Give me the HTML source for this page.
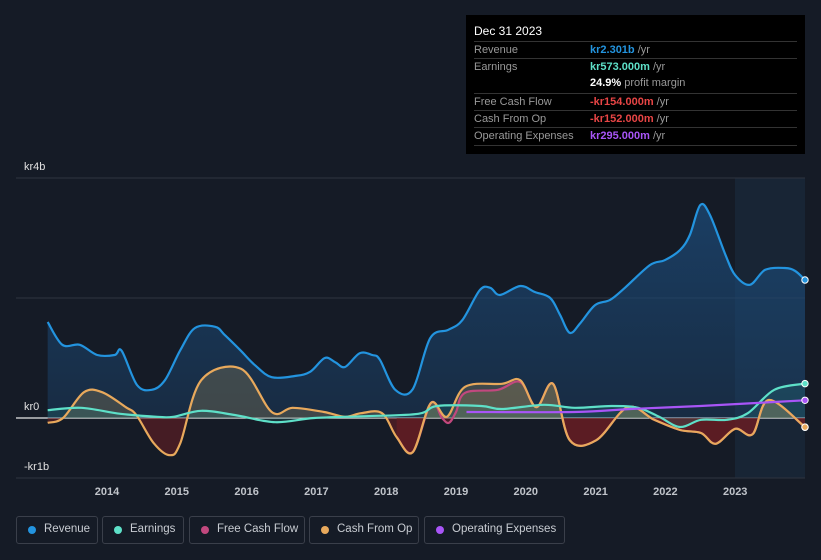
<!DOCTYPE html>
<html><head><meta charset="utf-8"><style>
body{margin:0;background:#151b26;width:821px;height:560px;overflow:hidden;font-family:"Liberation Sans",sans-serif;}
#tip{position:absolute;left:466px;top:15px;width:339px;height:139px;background:#000;color:#fff;font-size:11px;}
#tip .h{position:absolute;left:8px;top:9px;font-size:12px;}
#tip .r{position:absolute;left:8px;width:323px;border-top:1px solid #333;height:17px;}
#tip .l{position:absolute;left:0;top:2px;color:#999;}
#tip .v{position:absolute;left:116px;top:2px;font-weight:bold;}
#tip .v span{color:#999;font-weight:normal;}
.leg{position:absolute;top:516px;height:28px;border:1px solid #3a3f4a;border-radius:3px;color:#c8ccd2;font-size:11.5px;box-sizing:border-box;}
.leg i{position:absolute;left:11px;top:9px;width:8px;height:8px;border-radius:50%;}
.leg b{position:absolute;left:27px;top:6px;font-weight:normal;}
</style></head><body>
<svg id="chart" width="821" height="560" style="position:absolute;left:0;top:0">
<defs>
<linearGradient id="rg" x1="0" y1="0" x2="0" y2="1"><stop offset="0" stop-color="#1c4a78" stop-opacity="0.75"/><stop offset="1" stop-color="#1c4a78" stop-opacity="0.35"/></linearGradient>
</defs>
<rect x="735" y="178" width="70" height="300" fill="#1a2d40" opacity="0.6"/>
<g id="grid"></g>
<g id="areas"></g>
<g id="lines"></g>
<g id="labels"></g>
</svg>
<div id="tip">
<div class="h">Dec 31 2023</div>
<div class="r" style="top:26px"><span class="l">Revenue</span><span class="v" style="color:#2394df">kr2.301b <span>/yr</span></span></div>
<div class="r" style="top:43px;border-bottom:0"><span class="l">Earnings</span><span class="v" style="color:#5ee0c8">kr573.000m <span>/yr</span></span></div>
<div class="r" style="top:60px;border-top:0"><span class="v" style="color:#fff">24.9% <span>profit margin</span></span></div>
<div class="r" style="top:78px"><span class="l">Free Cash Flow</span><span class="v" style="color:#e84545">-kr154.000m <span>/yr</span></span></div>
<div class="r" style="top:95px"><span class="l">Cash From Op</span><span class="v" style="color:#e84545">-kr152.000m <span>/yr</span></span></div>
<div class="r" style="top:112px"><span class="l">Operating Expenses</span><span class="v" style="color:#a855f7">kr295.000m <span>/yr</span></span></div>
<div class="r" style="top:130px;height:0"></div>
</div>
<div class="leg" style="left:16px;width:82px"><i style="background:#2394df"></i><b>Revenue</b></div>
<div class="leg" style="left:102px;width:82px"><i style="background:#5ee0c8"></i><b>Earnings</b></div>
<div class="leg" style="left:189px;width:116px"><i style="background:#c2487e"></i><b>Free Cash Flow</b></div>
<div class="leg" style="left:309px;width:110px"><i style="background:#e8a95c"></i><b>Cash From Op</b></div>
<div class="leg" style="left:424px;width:141px"><i style="background:#a855f7"></i><b>Operating Expenses</b></div>
<script>
const yTicks=[4,2,0,-1];
const yTickLabels=["kr4b","","kr0","-kr1b"];
const xYears=[2014,2015,2016,2017,2018,2019,2020,2021,2022,2023];
const revT=[2013.15,2013.36,2013.61,2013.86,2014.11,2014.21,2014.43,2014.64,2014.83,2015.05,2015.26,2015.55,2015.69,2015.91,2016.12,2016.36,2016.69,2016.91,2017.12,2017.27,2017.41,2017.62,2017.80,2017.91,2018.13,2018.38,2018.63,2018.89,2019.09,2019.34,2019.49,2019.63,2019.92,2020.13,2020.35,2020.49,2020.63,2020.78,2020.99,2021.21,2021.42,2021.78,2021.99,2022.21,2022.35,2022.50,2022.64,2022.86,2023.00,2023.21,2023.43,2023.71,2023.86,2024.0];
const revV=[1.60,1.22,1.22,1.05,1.05,1.12,0.55,0.47,0.63,1.13,1.50,1.52,1.38,1.13,0.88,0.68,0.70,0.77,1.00,0.93,0.85,1.08,1.05,0.97,0.47,0.48,1.33,1.47,1.63,2.13,2.17,2.05,2.20,2.10,2.00,1.72,1.42,1.58,1.88,1.97,2.17,2.55,2.63,2.80,3.05,3.55,3.38,2.72,2.38,2.22,2.47,2.50,2.45,2.30];
const earnT=[2013.15,2013.63,2014.19,2014.72,2014.95,2015.35,2015.83,2016.41,2016.97,2017.71,2018.46,2018.73,2019.36,2019.66,2020.26,2020.70,2021.23,2021.61,2021.91,2022.21,2022.51,2022.88,2023.18,2023.56,2024.0];
const earnV=[0.13,0.17,0.07,0.02,0.02,0.12,0.05,-0.07,0,0.03,0.07,0.2,0.2,0.15,0.22,0.17,0.2,0.17,0.02,-0.15,-0.03,-0.03,0.08,0.47,0.573];
const cfoT=[2013.15,2013.37,2013.67,2013.93,2014.27,2014.42,2014.67,2014.90,2015.05,2015.35,2015.92,2016.36,2016.66,2017.11,2017.41,2017.64,2017.94,2018.15,2018.38,2018.64,2018.87,2019.13,2019.66,2019.92,2020.15,2020.39,2020.63,2021.01,2021.46,2021.84,2022.21,2022.51,2022.72,2023.0,2023.25,2023.48,2024.0];
const cfoV=[-0.08,0,0.43,0.43,0.18,0.05,-0.42,-0.62,-0.42,0.63,0.82,0.1,0.17,0.1,0.02,0.08,0.08,-0.32,-0.57,0.25,0.02,0.52,0.57,0.63,0.18,0.57,-0.37,-0.37,0.18,-0.03,-0.2,-0.25,-0.43,-0.18,-0.27,0.3,-0.152];
const fcfT=[2018.15,2018.38,2018.64,2018.8,2018.9,2019.0,2019.13,2019.6,2019.92,2020.15,2020.39,2020.63,2021.01,2021.46,2021.84,2022.21,2022.51,2022.72,2023.0,2023.25,2023.48,2024.0];
const fcfV=[-0.32,-0.57,0.25,0.0,-0.08,0.1,0.42,0.47,0.6,0.18,0.57,-0.37,-0.37,0.18,-0.03,-0.2,-0.25,-0.43,-0.18,-0.27,0.3,-0.154];
const opexT=[2019.15,2020.7,2021.5,2022.5,2023.3,2024.0];
const opexV=[0.1,0.1,0.15,0.2,0.25,0.295];

const X=t=>107+(t-2014)*69.8;
const Y=v=>418-v*60;
const NS="http://www.w3.org/2000/svg";
function mk(tag,attrs,parent){const e=document.createElementNS(NS,tag);for(const k in attrs)e.setAttribute(k,attrs[k]);parent.appendChild(e);return e;}
function pathD(T,V){const p=T.map((t,i)=>[X(t),Y(V[i])]);let d=`M${p[0][0]},${p[0][1]}`;
for(let i=0;i<p.length-1;i++){const p0=p[i-1]||p[i],p1=p[i],p2=p[i+1],p3=p[i+2]||p2;
d+=` C${p1[0]+(p2[0]-p0[0])/6},${p1[1]+(p2[1]-p0[1])/6} ${p2[0]-(p3[0]-p1[0])/6},${p2[1]-(p3[1]-p1[1])/6} ${p2[0]},${p2[1]}`;}return d;}
const grid=document.getElementById('grid'),areas=document.getElementById('areas'),lines=document.getElementById('lines'),labels=document.getElementById('labels');
yTicks.forEach((v,i)=>{
 const l=mk('line',{x1:16,x2:805,y1:Y(v),y2:Y(v),stroke:v===0?'#e8e8e8':'#2e3440','stroke-width':v===0?1.2:1},grid);
 
 
 if(yTickLabels[i]){const t=mk('text',{x:24,y:Y(v)-8,fill:'#e0e0e0','font-size':11},labels);t.textContent=yTickLabels[i];
 
 }
});
xYears.forEach(yr=>{const t=mk('text',{x:X(yr),y:495,fill:'#c0c4ca','font-size':11,'text-anchor':'middle','font-weight':'bold'},labels);t.textContent=yr;
 
 });
function area(T,V,fill,op,name){const d=pathD(T,V)+` L${X(T[T.length-1])},418 L${X(T[0])},418 Z`;const a=mk('path',{d:d,fill:fill,opacity:op},areas);
 
 }
area(revT,revV,'url(#rg)',1,'revenue-area');
mk('clipPath',{id:'pos'},areas);document.getElementById('pos').appendChild(document.createElementNS(NS,'rect'));
const pr=document.querySelector('#pos rect');pr.setAttribute('x',0);pr.setAttribute('y',0);pr.setAttribute('width',821);pr.setAttribute('height',418);
mk('clipPath',{id:'neg'},areas);const nr=document.createElementNS(NS,'rect');document.getElementById('neg').appendChild(nr);
nr.setAttribute('x',0);nr.setAttribute('y',418);nr.setAttribute('width',821);nr.setAttribute('height',200);
const gp=mk('g',{'clip-path':'url(#pos)'},areas),gn=mk('g',{'clip-path':'url(#neg)'},areas);
[[cfoT,cfoV],[fcfT,fcfV]].forEach(([T,V])=>{const d=pathD(T,V)+` L${X(T[T.length-1])},418 L${X(T[0])},418 Z`;
 const a=mk('path',{d:d,fill:'#8a7a55',opacity:0.35},gp);
 const b=mk('path',{d:d,fill:'#6e1e22',opacity:0.55},gn);});
area(earnT,earnV,'#2a8c86',0.2,'earnings-area');
function line(T,V,color,name){const l=mk('path',{d:pathD(T,V),fill:'none',stroke:color,'stroke-width':2.2},lines);
 
 
 const c=mk('circle',{cx:X(T[T.length-1]),cy:Y(V[V.length-1]),r:3.2,fill:color,stroke:'#fff','stroke-width':1},lines);
 
 }
line(fcfT,fcfV,'#c2487e','free-cash-flow-line');
line(cfoT,cfoV,'#e8a95c','cash-from-op-line');
line(earnT,earnV,'#5ee0c8','earnings-line');
line(opexT,opexV,'#a855f7','operating-expenses-line');
line(revT,revV,'#2394df','revenue-line');
</script>
</body></html>
